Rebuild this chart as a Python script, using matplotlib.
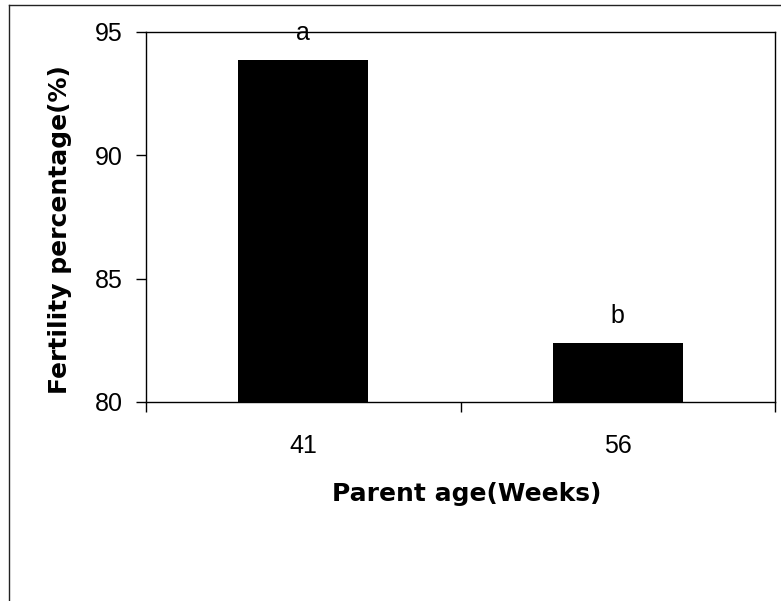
import matplotlib
matplotlib.use("Agg")
import matplotlib.pyplot as plt
from matplotlib.lines import Line2D

ages = ["41", "56"]
fertility = [93.85, 82.4]
letters = ["a", "b"]

figure = plt.figure(figsize=(7.81, 6.01), dpi=100)
axis = figure.add_axes([146 / 781, 1 - 402 / 601, 629 / 781, 370 / 601])

positions = range(len(ages))
axis.bar(positions, fertility, width=0.413, color="black", bottom=0)

# significance letters above each bar
for x, y, letter in zip(positions, fertility, letters):
    axis.annotate(letter, (x, y), xytext=(0, 11), textcoords="offset points",
                  ha="center", va="bottom", fontsize=18, family="Liberation Sans")

axis.set_xlim(-0.5, 1.5)
axis.set_ylim(80, 95)
axis.set_yticks([80, 85, 90, 95])
axis.set_xticks(list(positions))
axis.set_xticklabels(ages)
axis.set_xticks([-0.5, 0.5, 1.5], minor=True)

axis.tick_params(axis="x", which="major", length=0, pad=23, labelsize=18)
axis.tick_params(axis="x", which="minor", length=7, width=1, direction="out")
axis.tick_params(axis="y", length=7, width=1, direction="out", pad=10, labelsize=18)
for lab in axis.get_xticklabels() + axis.get_yticklabels():
    lab.set_family("Liberation Sans")

for spine in axis.spines.values():
    spine.set_linewidth(1)
    spine.set_color("black")

axis.set_xlabel("Parent age(Weeks)", fontsize=18, fontweight="bold", family="DejaVu Sans")
axis.set_ylabel("Fertility percentage(%)", fontsize=18, fontweight="bold", family="DejaVu Sans")
axis.xaxis.set_label_coords(0.51, -0.215)
axis.yaxis.set_label_coords(-0.118, 0.465)

# outer chart frame (left and top edges visible)
fx = 9 / 781
fy = 1 - 5 / 601
figure.add_artist(Line2D([fx, fx], [0, fy], color="#222222", lw=1))
figure.add_artist(Line2D([fx, 1], [fy, fy], color="#222222", lw=1))

figure.savefig("out.png", format="png", dpi=100)
